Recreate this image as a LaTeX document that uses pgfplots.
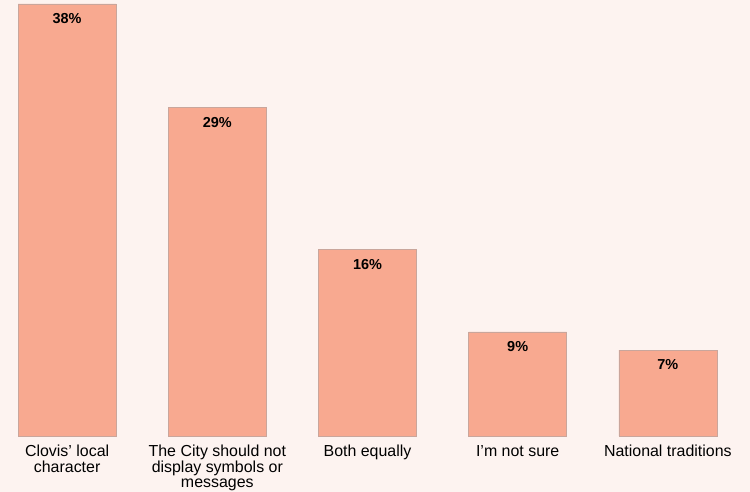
\documentclass[border=0pt]{standalone}
\usepackage{pgfplots}
\pgfplotsset{compat=1.18}
\usepackage{fontspec}
\setmainfont{Liberation Sans}
\definecolor{bg}{HTML}{FDF3F0}
\definecolor{barc}{HTML}{F8A990}
\definecolor{bard}{HTML}{C9A69C}
\begin{document}
\begin{tikzpicture}
\fill[bg] (0,-56bp) rectangle (750bp,436bp);
\begin{axis}[
  at={(0,0)}, anchor=south west,
  scale only axis,
  width=750bp, height=432bp,
  xmin=-0.447, xmax=4.547,
  ymin=0, ymax=38,
  axis lines=none,
  ybar, bar width=98bp,
  xtick=data,
  ytick=\empty,
  clip=false,
  point meta=explicit,
  /pgf/number format/assume math mode=true,
  nodes near coords={\textbf{\pgfmathprintnumber[fixed,precision=0]{\pgfplotspointmeta}\%}},
  nodes near coords style={anchor=north, font=\fontsize{14.5}{16}\selectfont\bfseries, text=black, yshift=-6bp},
  every node near coord/.append style={anchor=north},
]
\addplot[fill=barc, draw=bard, line width=0.6bp] coordinates {(0,38) [38] (1,28.9) [29] (2,16.4) [16] (3,9.15) [9] (4,7.55) [7]};
\foreach \i/\t in {0/{Clovis’ local\\character},1/{The City should not\\display symbols or\\messages},2/{Both equally},3/{I’m not sure},4/{National traditions}}{
  \edef\temp{\noexpand\node[anchor=north, align=center, font=\noexpand\fontsize{16}{15.5}\noexpand\selectfont, inner sep=0pt] at (axis cs:\i,0) [yshift=-9bp] {\unexpanded\expandafter{\t}};}
  \temp
}
\end{axis}
\end{tikzpicture}
\end{document}
